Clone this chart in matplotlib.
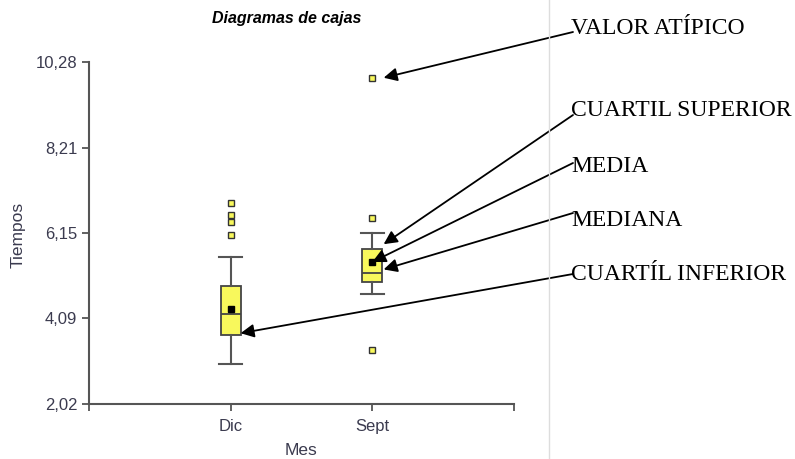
import matplotlib
matplotlib.use("Agg")
import matplotlib.pyplot as plt
import numpy as np

# --- datos ---
meses = ["Dic", "Sept"]
q1 = [3.69, 4.97]
mediana = [4.19, 5.19]
q3 = [4.87, 5.76]
media = [4.31, 5.45]
bigote_inf = [2.99, 4.68]
bigote_sup = [5.57, 6.14]
atipicos = [[6.11, 6.41, 6.59, 6.88], [3.32, 6.52, 9.90]]

yticks = [2.02, 4.09, 6.15, 8.21, 10.28]

etiquetas = ["VALOR ATÍPICO", "CUARTIL SUPERIOR", "MEDIA", "MEDIANA", "CUARTÍL INFERIOR"]

W, H = 795, 459
fig = plt.figure(figsize=(W / 100, H / 100), dpi=100)
plt.rcParams['font.family'] = ['Liberation Sans', 'DejaVu Sans']

ax = fig.add_axes([89 / W, 1 - 404 / H, (514 - 89) / W, (404 - 62) / H])

stats = []
for i, m in enumerate(meses):
    stats.append(dict(label=m, q1=q1[i], med=mediana[i], q3=q3[i], mean=media[i],
                      whislo=bigote_inf[i], whishi=bigote_sup[i], fliers=atipicos[i]))

pos = [1, 2]
gris = '#555555'
ax.bxp(stats, positions=pos, widths=0.14, patch_artist=True, showmeans=True,
       boxprops=dict(facecolor='#f8f85c', edgecolor='#444444', linewidth=1.3),
       medianprops=dict(color='#444444', linewidth=1.3),
       whiskerprops=dict(color=gris, linewidth=1.5),
       capprops=dict(color=gris, linewidth=1.5),
       capwidths=0.16,
       meanprops=dict(marker='s', markerfacecolor='black', markeredgecolor='black', markersize=4.5),
       flierprops=dict(marker='s', markerfacecolor='#f8f85c', markeredgecolor='#333333',
                       markersize=4, markeredgewidth=1.0))

ax.set_xlim(0, 3)
ax.set_ylim(yticks[0], yticks[-1])
ax.set_xticks([0, 1, 2, 3])
ax.set_xticklabels(["", meses[0], meses[1], ""])
ax.set_yticks(yticks)
ax.set_yticklabels([f"{v:.2f}".replace('.', ',') for v in yticks])
for s in ['top', 'right']:
    ax.spines[s].set_visible(False)
for s in ['left', 'bottom']:
    ax.spines[s].set_color(gris)
    ax.spines[s].set_linewidth(1.5)
txt = '#3b3b4f'
ax.tick_params(axis='both', colors=gris, labelcolor=txt, labelsize=12, length=5, width=1.3)
ax.tick_params(axis='x', pad=6)
ax.set_xlabel("Mes", fontsize=12.5, color=txt, labelpad=6)
fig.text(18 / W, 1 - 235 / H, "Tiempos", rotation=90, ha='center', va='center',
         fontsize=12.5, color=txt)

fig.text(287 / W, 1 - 18 / H, "Diagramas de cajas", ha='center', va='center',
         fontsize=11.5, fontweight='bold', fontstyle='italic', color='black')

# linea vertical separadora
fig.add_artist(plt.Line2D([549 / W, 549 / W], [0, 1], transform=fig.transFigure,
                          color='#dddddd', linewidth=1))

# puntas de flecha en coordenadas de datos
destinos = [
    (pos[1] + 0.08, max(atipicos[1])),
    (pos[1] + 0.08, q3[1] + 0.12),
    (pos[1], media[1]),
    (pos[1] + 0.08, mediana[1] + 0.08),
    (pos[0] + 0.07, q1[0] + 0.04),
]
origen_y = [32, 115, 163, 213, 274]
texto_y = [28, 110, 166, 220, 275]

for lab, d, oy, ty in zip(etiquetas, destinos, origen_y, texto_y):
    ax.annotate('', xy=d, xycoords='data', xytext=(573 / W, 1 - oy / H),
                textcoords='figure fraction', annotation_clip=False,
                arrowprops=dict(arrowstyle='-|>', color='black', lw=1.3,
                                mutation_scale=20, shrinkA=0, shrinkB=0))
    fig.text(571 / W, 1 - ty / H, lab, ha='left', va='center', fontsize=17,
             family=['Liberation Serif', 'DejaVu Serif'], color='black')

fig.savefig('out.png', dpi=100)
